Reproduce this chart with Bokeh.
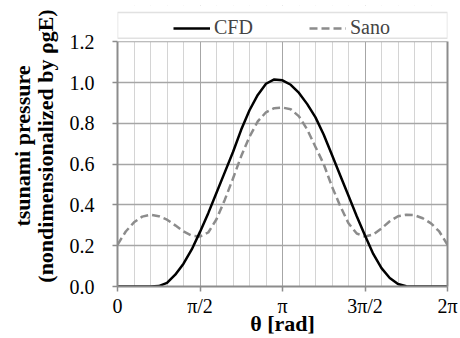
import numpy as np
from bokeh.plotting import figure
from bokeh.models import (FixedTicker, Legend, LegendItem, BoxAnnotation, LinearAxis,
                          Range1d, NumeralTickFormatter)
from bokeh.embed import file_html
from bokeh.resources import INLINE

# ---- data (theta given in multiples of pi) ----
theta_over_pi = [0.00, 0.05, 0.10, 0.15, 0.20, 0.25, 0.30, 0.35, 0.40, 0.45,
                 0.50, 0.55, 0.60, 0.65, 0.70, 0.75, 0.80, 0.85, 0.90, 0.95,
                 1.00, 1.05, 1.10, 1.15, 1.20, 1.25, 1.30, 1.35, 1.40, 1.45,
                 1.50, 1.55, 1.60, 1.65, 1.70, 1.75, 1.80, 1.85, 1.90, 1.95, 2.00]
cfd = [0.0, 0.0, 0.0, 0.0, 0.0, 0.002, 0.018, 0.058, 0.112, 0.182,
       0.268, 0.36, 0.46, 0.56, 0.66, 0.77, 0.865, 0.94, 0.995, 1.016,
       1.012, 0.99, 0.95, 0.895, 0.83, 0.745, 0.645, 0.545, 0.445, 0.345,
       0.25, 0.16, 0.09, 0.042, 0.012, 0.001, 0.0, 0.0, 0.0, 0.0, 0.0]
sano = [0.205, 0.27, 0.315, 0.343, 0.352, 0.345, 0.328, 0.30, 0.27, 0.25,
        0.245, 0.265, 0.33, 0.425, 0.53, 0.64, 0.735, 0.81, 0.855, 0.875,
        0.878, 0.87, 0.835, 0.77, 0.685, 0.60, 0.49, 0.395, 0.31, 0.26,
        0.245, 0.255, 0.285, 0.32, 0.345, 0.352, 0.35, 0.335, 0.31, 0.27, 0.205]
x_tick_mult = [0, 0.5, 1, 1.5, 2]
x_tick_labels = ["0", "π/2", "π", "3π/2", "2π"]
x_minor_mult = [i / 10 for i in range(21)]
y_ticks = [0.0, 0.2, 0.4, 0.6, 0.8, 1.0, 1.2]
y_top = 1.2

theta = np.array(theta_over_pi) * np.pi

FONT = "Liberation Serif"
AXC = "#8c8c8c"

p = figure(width=460, height=338, output_backend="svg", toolbar_location=None,
           min_border_left=117, min_border_right=13, min_border_top=5,
           min_border_bottom=50)
p.x_range = Range1d(0, 2 * np.pi)
p.y_range = Range1d(0, 1.379)
p.background_fill_color = "white"
p.border_fill_color = "white"
p.outline_line_color = None

major_x = [m * np.pi for m in x_tick_mult]
minor_x = [m * np.pi for m in x_minor_mult]
p.xaxis.ticker = FixedTicker(ticks=major_x, minor_ticks=minor_x)
p.xaxis.major_label_overrides = {mx: lab for mx, lab in zip(major_x, x_tick_labels)}
p.yaxis.ticker = FixedTicker(ticks=y_ticks)
p.yaxis.formatter = NumeralTickFormatter(format="0.0")
p.yaxis.bounds = (0, y_top)

for ax in (p.xaxis, p.yaxis):
    ax.axis_line_color = AXC
    ax.axis_line_width = 2
    ax.major_tick_line_color = AXC
    ax.major_tick_line_width = 1.5
    ax.major_tick_in = 0
    ax.major_tick_out = 5
    ax.minor_tick_line_color = None
    ax.major_label_text_font = FONT
    ax.major_label_text_font_size = "20px"
    ax.major_label_text_color = "black"
    ax.axis_label_text_font = FONT
    ax.axis_label_text_font_size = "22px"
    ax.axis_label_text_font_style = "bold"
    ax.axis_label_text_color = "black"
    ax.axis_label_text_line_height = 0.9
p.xaxis.major_label_standoff = 3
p.yaxis.major_label_standoff = 18
p.xaxis.axis_label = "θ [rad]"
p.xaxis.axis_label_standoff = -9
p.yaxis.axis_label = "tsunami pressure\n(nondimensionalized by ρgE)"
p.yaxis.axis_label_standoff = 9

# right border of the plot area
p.add_layout(LinearAxis(ticker=FixedTicker(ticks=[]), bounds=(0, y_top),
                        axis_line_color=AXC, axis_line_width=2,
                        major_tick_line_color=None, minor_tick_line_color=None), "right")

p.xgrid.grid_line_color = "#a6a6a6"
p.xgrid.grid_line_width = 1
p.xgrid.minor_grid_line_color = "#d4d4d4"
p.xgrid.minor_grid_line_width = 1
p.ygrid.grid_line_color = "#a6a6a6"
p.ygrid.grid_line_width = 1.5

r_sano = p.line(theta, sano, line_color="#8c8c8c", line_width=2.5, line_dash="8 4")
r_cfd = p.line(theta, cfd, line_color="black", line_width=2.5)

# white strip above the plot area that holds the legend
cover = BoxAnnotation(bottom=y_top + 0.004, fill_color="white", fill_alpha=1.0,
                      line_alpha=0, level="annotation")
p.add_layout(cover)
box = BoxAnnotation(left=0, right=2 * np.pi, bottom=1.218, top=1.345,
                    fill_alpha=0, line_color="#9a9a9a", line_width=1.5)
p.add_layout(box)

legend = Legend(items=[LegendItem(label="CFD", renderers=[r_cfd]),
                       LegendItem(label="Sano", renderers=[r_sano])],
                orientation="horizontal", location=(56, 247),
                padding=0, margin=0, spacing=56, glyph_width=37, label_standoff=4,
                border_line_alpha=0, background_fill_alpha=0,
                label_text_font=FONT, label_text_font_size="20px")
p.add_layout(legend, "center")

open("out.html", "w").write(file_html(p, INLINE))
